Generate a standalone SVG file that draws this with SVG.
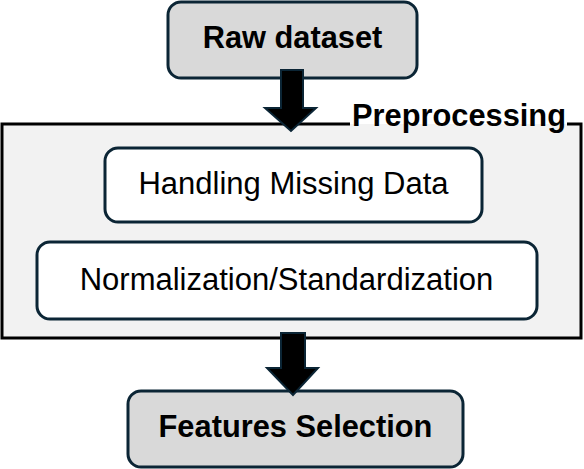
<svg xmlns="http://www.w3.org/2000/svg" width="584" height="469" viewBox="0 0 584 469">
<style>
.node{stroke:#0b2535;stroke-width:3}
.gray{fill:#d9d9d9}
.white{fill:#ffffff}
.b{font-family:"Liberation Sans",Arial,sans-serif;font-weight:bold;font-size:30.8px;fill:#000;text-anchor:middle}
.r{font-family:"Liberation Sans",Arial,sans-serif;font-size:31px;fill:#000;text-anchor:middle}
.arrow{fill:#000;stroke:#0b2535;stroke-width:2;stroke-linejoin:miter}
</style>
<rect width="584" height="469" fill="#ffffff"/>
<g id="preprocessing">
<rect x="2" y="124" width="579" height="214" fill="#f2f2f2"/>
<path d="M350,124 H2 V338 H581 V124 H567" fill="none" stroke="#000" stroke-width="3"/>
<text x="352" y="126" font-family="Liberation Sans,Arial,sans-serif" font-weight="bold" font-size="30.8" fill="#000">Preprocessing</text>
</g>
<g id="raw-dataset">
<rect class="node gray" x="168" y="2" width="249" height="76" rx="13"/>
<text class="b" x="292.5" y="48">Raw dataset</text>
</g>
<g id="handling-missing-data">
<rect class="node white" x="105" y="148" width="377" height="74" rx="13"/>
<text class="r" x="293.5" y="194">Handling Missing Data</text>
</g>
<g id="normalization">
<rect class="node white" x="37" y="242" width="500" height="77" rx="13"/>
<text class="r" x="286.5" y="290">Normalization/Standardization</text>
</g>
<g id="features-selection">
<rect class="node gray" x="128" y="391" width="335" height="76" rx="13"/>
<text class="b" x="295.5" y="437">Features Selection</text>
</g>
<g id="connectors">
<path class="arrow" d="M281,70 H303 V108 H316 L291,131 L265,108 H281 Z"/>
<path class="arrow" d="M281,333 H305 V368 H318 L293,395 L267,368 H281 Z"/>
</g>
</svg>
